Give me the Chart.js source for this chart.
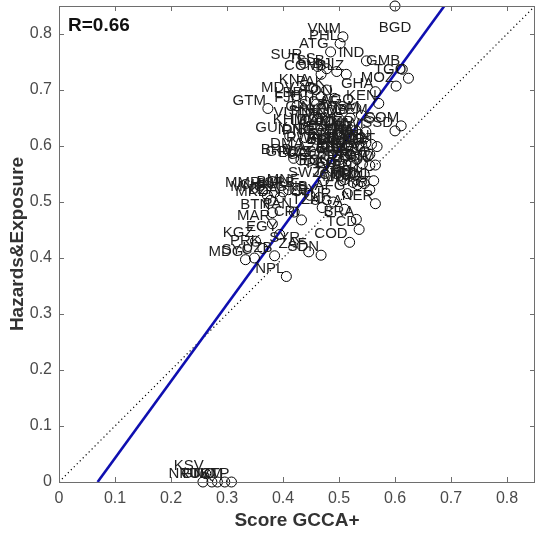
<!DOCTYPE html>
<html>
<head>
<meta charset="utf-8">
<title>Score GCCA+ vs Hazards&amp;Exposure</title>
<script src="https://cdn.jsdelivr.net/npm/chart.js@4.4.1/dist/chart.umd.min.js"></script>
<style>
  body { margin: 0; background: #fff; }
  canvas { display: block; }
</style>
</head>
<body>
<canvas id="scatter" width="536" height="538"></canvas>
<script>
// country codes and their two scores
const countryCodes = [
  'BGD','VNM','PHL','ATG','IND','SUR','TLS','SLB','DJI','BLZ','COM','GMB','TGO','MOZ','GHA','KEN',
  'KNA','MDV','PAK','LAO','TON','LBR','HTI','FJI','GTM','CAF','AGO','SLE','GIN','WSM','YEM',
  'VUT','SLV','NIC','HND','ZMB','KHM','LKA','DOM','ZWE','CMR','MWI','SOM','SSD',
  'GUY','IDN','PNG','BFA','ETH','ERI','MLI','SEN','MRT','BRB','DMA','GRD','LCA','VCT',
  'RWA','BDI','TJK','NAM','BWA','LSO','CPV','COG','GAB','IRQ','JOR','PSE','LBN','TUN','CIV',
  'ECU','PER','COL','VEN','PRY','JAM','CUB','TTO','MHL','FSM','PLW','THA','MYS','KAZ','AZE',
  'GEO','ARM','IRN','ALB',
  'SWZ','NGA','MDA','AFG','UKR','MMR','BOL','MNG','CHN','DZA','BIH','MKD','SRB','MNE','GNB',
  'LBY','UGA','NER','TUR','BTN','PAN','CRI','TZA','TCD','MAR','BRA','EGY','COD','KGZ','SYR',
  'SDN','ZAF','PRK','MDG','UZB','SYC','NPL',
  'NRU','KSV','TUV','GNQ','TKM','STP'
];
const scoreGCCA = [
  0.600,0.507,0.502,0.485,0.549,0.438,0.462,0.478,0.496,0.513,0.468,0.613,0.624,0.602,0.565,0.571,
  0.451,0.424,0.478,0.468,0.492,0.440,0.460,0.425,0.373,0.502,0.530,0.482,0.455,0.540,0.555,
  0.440,0.462,0.482,0.500,0.520,0.445,0.468,0.490,0.510,0.530,0.548,0.611,0.600,
  0.412,0.440,0.460,0.480,0.500,0.520,0.540,0.558,0.568,0.419,0.440,0.432,0.447,0.458,
  0.470,0.490,0.505,0.515,0.525,0.535,0.545,0.552,0.500,0.510,0.522,0.532,0.542,0.555,0.565,
  0.488,0.500,0.515,0.528,0.545,0.510,0.525,0.540,0.562,0.500,0.515,0.530,0.548,0.555,0.480,
  0.470,0.520,0.535,0.497,
  0.472,0.545,0.533,0.515,0.555,0.364,0.410,0.372,0.385,0.395,0.400,0.378,0.425,0.434,0.448,
  0.465,0.510,0.565,0.490,0.381,0.420,0.433,0.470,0.536,0.381,0.531,0.394,0.519,0.351,0.434,
  0.468,0.446,0.364,0.333,0.385,0.349,0.406,
  0.257,0.262,0.273,0.283,0.296,0.308
];
const hazardsExposure = [
  0.850,0.795,0.783,0.768,0.752,0.748,0.742,0.738,0.733,0.728,0.728,0.737,0.721,0.707,0.697,0.676,
  0.703,0.690,0.700,0.688,0.685,0.680,0.675,0.672,0.667,0.665,0.668,0.660,0.655,0.655,0.650,
  0.645,0.648,0.643,0.648,0.650,0.633,0.630,0.632,0.636,0.628,0.625,0.636,0.627,
  0.618,0.615,0.612,0.615,0.608,0.612,0.615,0.603,0.599,0.578,0.590,0.575,0.573,0.575,
  0.600,0.596,0.590,0.602,0.595,0.600,0.590,0.582,0.575,0.580,0.570,0.576,0.568,0.565,0.566,
  0.560,0.553,0.556,0.548,0.550,0.540,0.535,0.536,0.538,0.620,0.625,0.615,0.605,0.585,0.582,
  0.570,0.585,0.612,0.600,
  0.538,0.533,0.531,0.515,0.522,0.520,0.522,0.512,0.517,0.508,0.518,0.503,0.520,0.526,0.512,
  0.508,0.487,0.497,0.500,0.481,0.482,0.468,0.490,0.451,0.461,0.469,0.442,0.428,0.430,0.422,
  0.405,0.411,0.417,0.397,0.404,0.400,0.367,
  0.000,0.015,0.000,0.000,0.000,0.000
];

// least-squares fit shown as the blue line
const fitSlope = 1.373;
const fitIntercept = -0.0947;
const corrText = 'R=0.66';

const axisMin = 0;
const axisMax = 0.85;
const tickValues = [0, 0.1, 0.2, 0.3, 0.4, 0.5, 0.6, 0.7, 0.8];

const points = countryCodes.map((c, i) => ({x: scoreGCCA[i], y: hazardsExposure[i], code: c}));
const fitLine = [
  {x: (axisMin - fitIntercept) / fitSlope, y: axisMin},
  {x: (axisMax - fitIntercept) / fitSlope, y: axisMax}
];
const diagonal = [{x: axisMin, y: axisMin}, {x: axisMax, y: axisMax}];

const FONT = "'Liberation Sans', Arial, sans-serif";

// country labels, written just up and left of each circle
const labelPlugin = {
  id: 'labels',
  afterDatasetDraw(chart, args) {
    if (args.index !== 0) return;
    const ctx = chart.ctx;
    const top = chart.chartArea.top;
    ctx.save();
    ctx.font = '15px ' + FONT;
    ctx.fillStyle = '#1e1e1e';
    chart.getDatasetMeta(0).data.forEach((el, i) => {
      const code = chart.data.datasets[0].data[i].code;
      ctx.textBaseline = 'middle';
      if (el.y - 16 < top) {
        ctx.textAlign = 'center';
        ctx.fillText(code, el.x, el.y + 22);
      } else {
        ctx.textAlign = 'right';
        ctx.fillText(code, el.x - 2, el.y - 8);
      }
    });
    ctx.restore();
  }
};

// matlab style box with inward ticks on all four sides, plus the R text
const boxPlugin = {
  id: 'box',
  afterDraw(chart) {
    const {ctx, chartArea: a, scales} = chart;
    ctx.save();
    ctx.strokeStyle = '#6e6e6e';
    ctx.lineWidth = 1;
    ctx.strokeRect(a.left + 0.5, a.top + 0.5, a.right - a.left - 1, a.bottom - a.top);
    ctx.beginPath();
    tickValues.forEach(v => {
      const px = Math.round(scales.x.getPixelForValue(v)) + 0.5;
      ctx.moveTo(px, a.bottom); ctx.lineTo(px, a.bottom - 5);
      ctx.moveTo(px, a.top); ctx.lineTo(px, a.top + 5);
      const py = Math.round(scales.y.getPixelForValue(v)) + 0.5;
      ctx.moveTo(a.left, py); ctx.lineTo(a.left + 5, py);
      ctx.moveTo(a.right, py); ctx.lineTo(a.right - 5, py);
    });
    ctx.stroke();
    ctx.fillStyle = '#111';
    ctx.font = 'bold 19px ' + FONT;
    ctx.textAlign = 'left';
    ctx.textBaseline = 'middle';
    ctx.fillText(corrText, a.left + 9, a.top + 20);
    ctx.restore();
  }
};

function onlyTenths(scale) {
  scale.ticks = tickValues.map(v => ({value: v}));
}

new Chart(document.getElementById('scatter'), {
  type: 'scatter',
  data: {
    datasets: [
      {
        data: points,
        pointStyle: 'circle',
        pointRadius: 5,
        pointHoverRadius: 5,
        pointBorderColor: '#000',
        pointBackgroundColor: 'rgba(0,0,0,0)',
        pointBorderWidth: 1,
        showLine: false,
        clip: false
      },
      {
        type: 'line',
        data: fitLine,
        borderColor: '#0f0fb0',
        borderWidth: 2.6,
        pointRadius: 0,
        fill: false
      },
      {
        type: 'line',
        data: diagonal,
        borderColor: '#000',
        borderWidth: 1.2,
        borderDash: [1.2, 3],
        pointRadius: 0,
        fill: false
      }
    ]
  },
  options: {
    responsive: false,
    animation: false,
    devicePixelRatio: 1,
    layout: { autoPadding: false, padding: { top: 6, right: 1, left: 0, bottom: 0 } },
    plugins: {
      legend: { display: false },
      tooltip: { enabled: false }
    },
    scales: {
      x: {
        type: 'linear',
        min: axisMin,
        max: axisMax,
        afterBuildTicks: onlyTenths,
        afterFit(scale) {
          scale.height = 56;
          scale.paddingLeft = 0;
          scale.paddingRight = 0;
        },
        grid: { display: false, drawTicks: false },
        border: { display: false },
        ticks: {
          padding: 7,
          color: '#4a4a4a',
          font: { family: FONT, size: 16 },
          callback: v => String(+v.toFixed(1))
        },
        title: {
          display: true,
          text: 'Score GCCA+',
          color: '#333',
          font: { family: FONT, size: 19, weight: 'bold' },
          padding: { top: 0, bottom: 6 }
        }
      },
      y: {
        type: 'linear',
        min: axisMin,
        max: axisMax,
        afterBuildTicks: onlyTenths,
        afterFit(scale) {
          scale.width = 59;
          scale.paddingTop = 0;
          scale.paddingBottom = 0;
        },
        grid: { display: false, drawTicks: false },
        border: { display: false },
        ticks: {
          padding: 7,
          color: '#4a4a4a',
          font: { family: FONT, size: 16 },
          callback: v => String(+v.toFixed(1))
        },
        title: {
          display: true,
          text: 'Hazards&Exposure',
          color: '#333',
          font: { family: FONT, size: 19, weight: 'bold' },
          padding: { top: 6, bottom: 0 }
        }
      }
    }
  },
  plugins: [labelPlugin, boxPlugin]
});
</script>
</body>
</html>
